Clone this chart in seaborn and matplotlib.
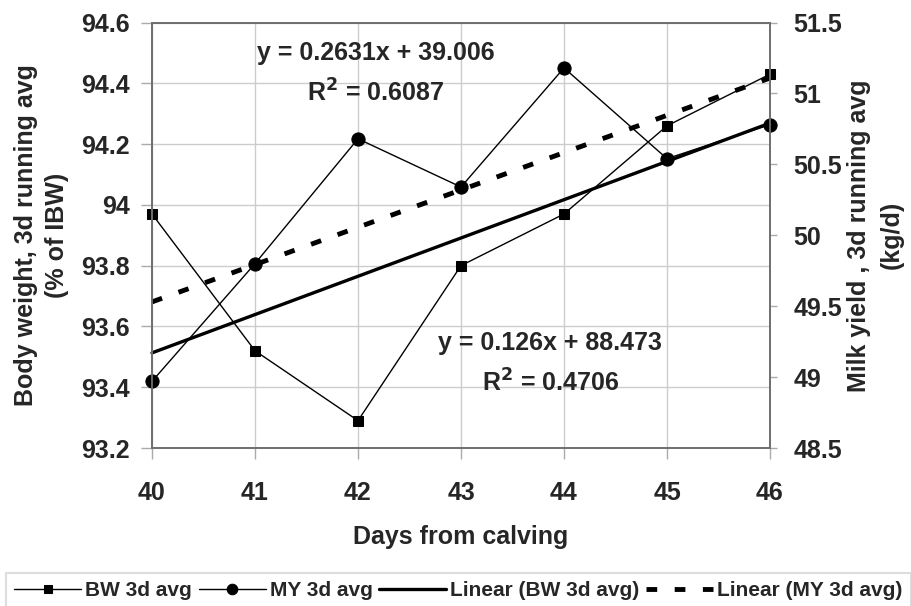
import numpy as np
import pandas as pd
import matplotlib
matplotlib.use("Agg")
import matplotlib.pyplot as plt
from matplotlib.ticker import FuncFormatter
import seaborn as sns

# data
days = [40, 41, 42, 43, 44, 45, 46]
bw_avg = [93.97, 93.52, 93.29, 93.80, 93.97, 94.26, 94.43]   # % of IBW (left axis)
my_avg = [48.97, 49.80, 50.68, 50.34, 51.18, 50.54, 50.78]   # kg/d (right axis)

# trendline coefficients as printed on the chart
bw_fit = [0.126, 88.473]
my_fit = [0.2631, 39.006]
bw_eq = ["y = 0.126x + 88.473", "R$^2$ = 0.4706"]
my_eq = ["y = 0.2631x + 39.006", "R$^2$ = 0.6087"]

bw_ticks = [93.2, 93.4, 93.6, 93.8, 94.0, 94.2, 94.4, 94.6]
my_ticks = [48.5, 49.0, 49.5, 50.0, 50.5, 51.0, 51.5]

df = pd.DataFrame({"day": days, "bw": bw_avg, "my": my_avg})
df["bw_lin"] = bw_fit[0] * df["day"] + bw_fit[1]
df["my_lin"] = my_fit[0] * df["day"] + my_fit[1]

sns.set_theme(style="white")
plt.rcParams["font.family"] = ["Liberation Sans", "DejaVu Sans"]
plt.rcParams["font.weight"] = "bold"

fig = plt.figure(figsize=(9.12, 6.06), dpi=100)
ax = fig.add_axes([152/912, 1-448/606, 618/912, 425.5/606])
ax2 = ax.twinx()

grid_c = "#cccccc"
spine_c = "#707070"

# left axis: body weight
sns.lineplot(data=df, x="day", y="bw", ax=ax, color="black", lw=1, marker="s",
             markersize=7.5, markeredgecolor="black", label="BW 3d avg", legend=False)
sns.lineplot(data=df, x="day", y="bw_lin", ax=ax, color="black", lw=2.4,
             label="Linear (BW 3d avg)", legend=False)

# right axis: milk yield
sns.lineplot(data=df, x="day", y="my", ax=ax2, color="black", lw=1, marker="o",
             markersize=9.5, markeredgecolor="black", label="MY 3d avg", legend=False)
sns.lineplot(data=df, x="day", y="my_lin", ax=ax2, color="black", lw=3.5,
             label="Linear (MY 3d avg)", legend=False)
ax2.lines[-1].set_dashes([2.2, 3.6])
for a in (ax, ax2):
    for ln in a.lines:
        ln.set_clip_on(False)

ax.set_xlim(40, 46)
ax.set_ylim(93.2, 94.6)
ax2.set_ylim(48.5, 51.5)
ax.set_xticks(days)
ax.set_yticks(bw_ticks)
ax2.set_yticks(my_ticks)
fmt = FuncFormatter(lambda v, p: f"{v:g}")
ax.yaxis.set_major_formatter(fmt)
ax2.yaxis.set_major_formatter(fmt)

ax.grid(True, color=grid_c, lw=1)
ax.set_axisbelow(True)
for a in (ax, ax2):
    for s in a.spines.values():
        s.set_color(spine_c)
        s.set_linewidth(1.3)

ax.tick_params(axis="y", direction="out", length=8, width=1, color="#aaaaaa",
               labelsize=18, pad=8, left=True)
ax.tick_params(axis="x", direction="out", length=8, width=1, color="#aaaaaa",
               labelsize=18, pad=16, bottom=True)
ax2.tick_params(axis="y", direction="out", length=5, width=1, color="#aaaaaa",
                labelsize=18, pad=12, right=True)

ax.set_xlabel("Days from calving", fontsize=18, fontweight="bold", labelpad=14)
ax.set_ylabel("Body weight, 3d running avg\n(% of IBW)", fontsize=18,
              fontweight="bold", labelpad=9, linespacing=1.35)
ax2.set_ylabel("Milk yield , 3d running avg\n(kg/d)", fontsize=18,
               fontweight="bold", labelpad=3, linespacing=1.5)

# trendline equations
ax.text(43.0 - 85/103, 94.6 - (53-22.5)/425.5*1.4, my_eq[0], ha="center", va="center",
        fontsize=18, fontweight="bold")
ax.text(43.0 - 85/103, 94.6 - (93-22.5)/425.5*1.4, my_eq[1], ha="center", va="center",
        fontsize=18, fontweight="bold")
ax.text(43.0 + 89/103, 94.6 - (343-22.5)/425.5*1.4, bw_eq[0], ha="center", va="center",
        fontsize=18, fontweight="bold")
ax.text(43.0 + 90/103, 94.6 - (383-22.5)/425.5*1.4, bw_eq[1], ha="center", va="center",
        fontsize=18, fontweight="bold")

h1, l1 = ax.get_legend_handles_labels()
h2, l2 = ax2.get_legend_handles_labels()
handles = [h1[0], h2[0], h1[1], h2[1]]
labels = [l1[0], l2[0], l1[1], l2[1]]
leg = fig.legend(handles, labels, loc="upper left", ncol=4, mode="expand",
                 bbox_to_anchor=(6/912, 1-573/606, 905/912, 0), fontsize=15,
                 frameon=True, fancybox=False, edgecolor="#d5d5d5",
                 handlelength=3.2, handletextpad=0.2, columnspacing=0.6,
                 borderaxespad=0, markerscale=0.8)
leg.get_frame().set_linewidth(1.5)
for t in leg.get_texts():
    t.set_fontweight("bold")

fig.savefig("out.png", dpi=100)
